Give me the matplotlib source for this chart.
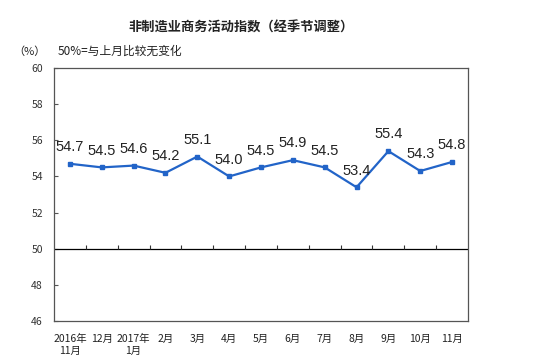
import matplotlib
matplotlib.use("Agg")
import matplotlib.pyplot as plt
import numpy as np

plt.rcParams['font.family'] = ['Noto Sans CJK SC', 'DejaVu Sans']

months = ["2016年\n11月", "12月", "2017年\n1月", "2月", "3月", "4月", "5月",
          "6月", "7月", "8月", "9月", "10月", "11月"]
index_values = [54.7, 54.5, 54.6, 54.2, 55.1, 54.0, 54.5, 54.9, 54.5, 53.4, 55.4, 54.3, 54.8]
y_ticks = [46, 48, 50, 52, 54, 56, 58, 60]

blue = "#2264c8"

fig = plt.figure(figsize=(5.39, 3.64), dpi=100)
ax = fig.add_axes([0.1002, 0.1181, 0.7681, 0.6951])

xs = np.arange(len(index_values))
ax.plot(xs, index_values, color=blue, lw=1.6, marker="s", ms=3.5, zorder=3)
for x, v in zip(xs, index_values):
    ax.annotate(f"{v:.1f}", (x, v), xytext=(0, 7), textcoords="offset points",
                ha="center", va="bottom", fontsize=10.5, family="Liberation Sans",
                color="#222222")

ax.set_xlim(-0.5, len(index_values) - 0.5)
ax.set_ylim(46, 60)
ax.set_yticks(y_ticks)
ax.set_yticklabels([str(t) for t in y_ticks], fontsize=7.5, color="#333333")
ax.tick_params(axis="y", direction="in", length=3, pad=8, color="#555555")
ax.set_xticks(xs)
ax.set_xticklabels(months, fontsize=7.5, color="#222222", linespacing=1.3)
ax.tick_params(axis="x", length=0, pad=9)

# baseline at 50 with category boundary ticks
ax.axhline(50, color="black", lw=0.9)
ax.vlines(xs[:-1] + 0.5, 50, 50.2, color="#333333", lw=0.8)

for s in ax.spines.values():
    s.set_color("#555555")
    s.set_linewidth(0.9)

fig.text(0.448, 0.925, "非制造业商务活动指数（经季节调整）", ha="center", va="center",
         fontsize=9.5, fontweight="bold", color="#222222")
fig.text(0.025, 0.858, "（%）", ha="left", va="center", fontsize=8, color="#222222")
fig.text(0.107, 0.858, "50%=与上月比较无变化", ha="left", va="center", fontsize=8.5,
         color="#222222")

fig.savefig("out.png", dpi=100)
